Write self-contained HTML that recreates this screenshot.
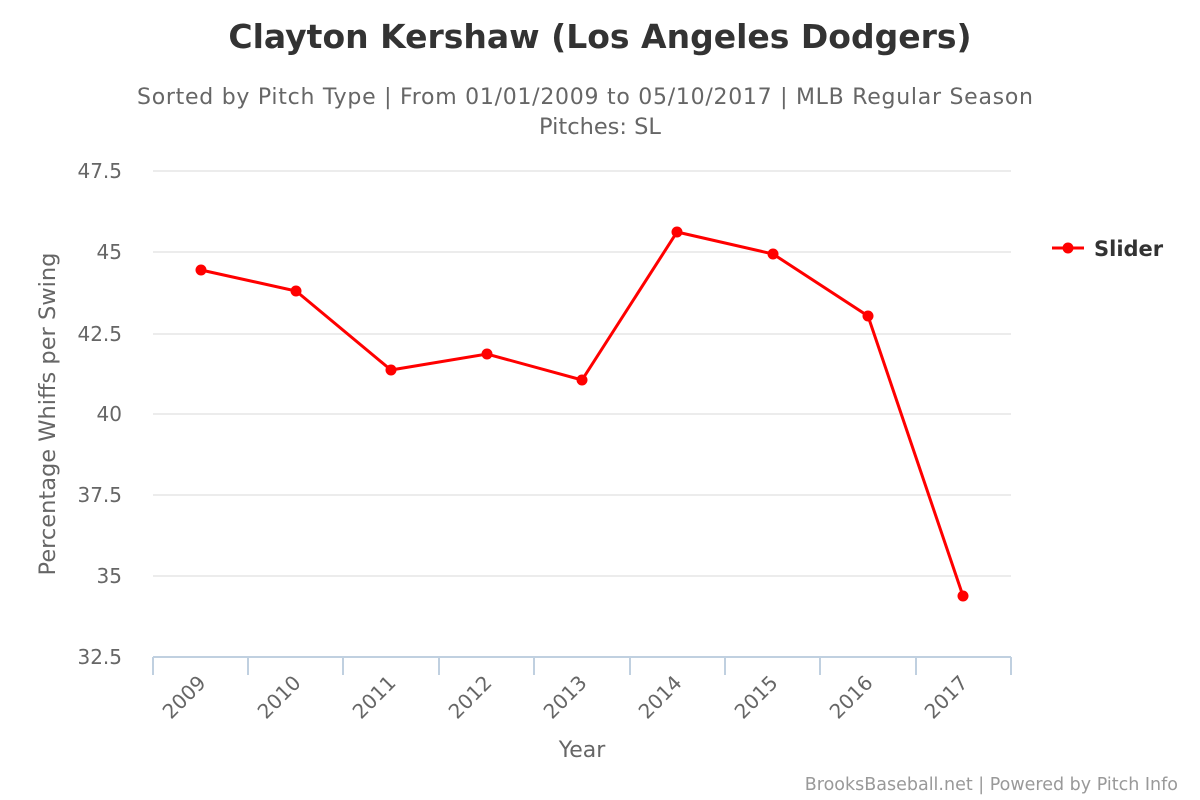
<!DOCTYPE html>
<html><head><meta charset="utf-8"><style>body{margin:0;background:#fff}svg{display:block}text{font-family:"DejaVu Sans","Liberation Sans",sans-serif}</style></head><body>
<svg width="1200" height="800" xmlns="http://www.w3.org/2000/svg">
<text x="600" y="48" text-anchor="middle" font-size="33" font-weight="bold" fill="#333">Clayton Kershaw (Los Angeles Dodgers)</text>
<text x="585" y="104" text-anchor="middle" font-size="22" fill="#666" textLength="896" lengthAdjust="spacing">Sorted by Pitch Type | From 01/01/2009 to 05/10/2017 | MLB Regular Season</text>
<text x="600" y="134" text-anchor="middle" font-size="22.5" fill="#666">Pitches: SL</text>
<g stroke="#e6e6e6" stroke-width="1.5">
<line x1="153" x2="1011" y1="171" y2="171"/><line x1="153" x2="1011" y1="252" y2="252"/><line x1="153" x2="1011" y1="334" y2="334"/><line x1="153" x2="1011" y1="414" y2="414"/><line x1="153" x2="1011" y1="495" y2="495"/><line x1="153" x2="1011" y1="576" y2="576"/>
</g>
<g stroke="#c0d0e0" stroke-width="2">
<line x1="153" x2="1011" y1="657" y2="657"/>
<line x1="153" x2="153" y1="657" y2="675"/><line x1="248" x2="248" y1="657" y2="675"/><line x1="343" x2="343" y1="657" y2="675"/><line x1="439" x2="439" y1="657" y2="675"/><line x1="534" x2="534" y1="657" y2="675"/><line x1="630" x2="630" y1="657" y2="675"/><line x1="725" x2="725" y1="657" y2="675"/><line x1="820" x2="820" y1="657" y2="675"/><line x1="916" x2="916" y1="657" y2="675"/><line x1="1011" x2="1011" y1="657" y2="675"/>
</g>
<g font-size="20" fill="#666" text-anchor="end">
<text x="122" y="178">47.5</text><text x="122" y="259">45</text><text x="122" y="341">42.5</text><text x="122" y="421">40</text><text x="122" y="502">37.5</text><text x="122" y="583">35</text><text x="122" y="664">32.5</text>
</g>
<g font-size="20" fill="#666" text-anchor="end">
<text transform="translate(207,684) rotate(-45)">2009</text>
<text transform="translate(302,684) rotate(-45)">2010</text>
<text transform="translate(397,684) rotate(-45)">2011</text>
<text transform="translate(493,684) rotate(-45)">2012</text>
<text transform="translate(588,684) rotate(-45)">2013</text>
<text transform="translate(683,684) rotate(-45)">2014</text>
<text transform="translate(779,684) rotate(-45)">2015</text>
<text transform="translate(874,684) rotate(-45)">2016</text>
<text transform="translate(969,684) rotate(-45)">2017</text>
</g>
<text x="582" y="757" text-anchor="middle" font-size="22" fill="#666">Year</text>
<text transform="translate(55,414) rotate(-90)" text-anchor="middle" font-size="22.5" fill="#666">Percentage Whiffs per Swing</text>
<polyline fill="none" stroke="#f00" stroke-width="3" points="201,270 296,291 391,370 487,354 582,380 677,232 773,254 868,316 963,596"/>
<g fill="#f00">
<circle cx="201" cy="270" r="5.5"/><circle cx="296" cy="291" r="5.5"/><circle cx="391" cy="370" r="5.5"/><circle cx="487" cy="354" r="5.5"/><circle cx="582" cy="380" r="5.5"/><circle cx="677" cy="232" r="5.5"/><circle cx="773" cy="254" r="5.5"/><circle cx="868" cy="316" r="5.5"/><circle cx="963" cy="596" r="5.5"/>
</g>
<line x1="1052" x2="1084" y1="248" y2="248" stroke="#f00" stroke-width="3"/>
<circle cx="1068" cy="248" r="5.5" fill="#f00"/>
<text x="1094" y="256" font-size="21" font-weight="bold" fill="#333">Slider</text>
<text x="1178" y="790" text-anchor="end" font-size="17.5" fill="#999">BrooksBaseball.net | Powered by Pitch Info</text>
</svg>
</body></html>
